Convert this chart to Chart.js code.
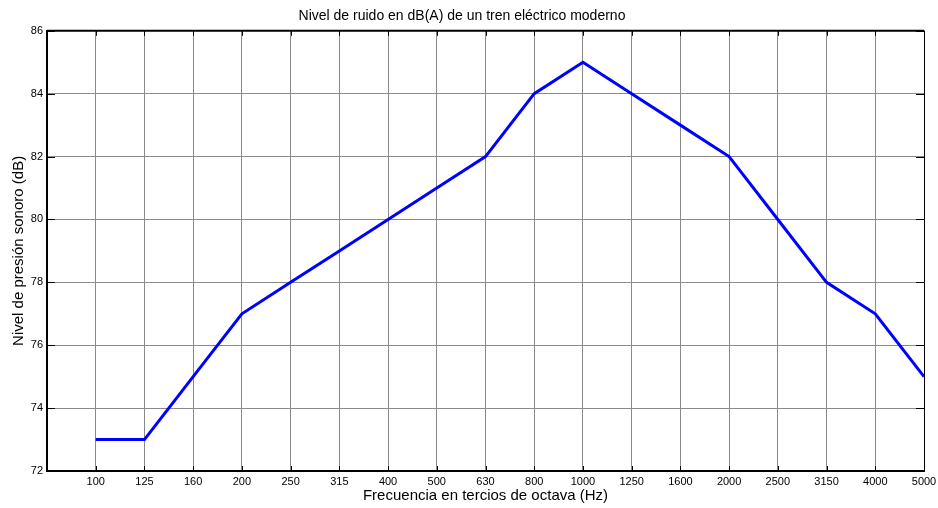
<!DOCTYPE html>
<html>
<head>
<meta charset="utf-8">
<script src="https://cdn.jsdelivr.net/npm/chart.js@4/dist/chart.umd.min.js"></script>
<style>
  html, body { margin: 0; padding: 0; background: #fff; }
  #wrap { width: 938px; height: 508px; }
</style>
</head>
<body>
<div id="wrap"><canvas id="chart" width="938" height="508"></canvas></div>
<script>
// ===== Ruido tren eléctrico =====
const FREQ_LABELS = ['100', '125', '160', '200', '250', '315', '400', '500', '630', '800',
    '1000', '1250', '1600', '2000', '2500', '3150', '4000', '5000'];
const NOISE_DB = [73, 73, 75, 77, 78, 79, 80, 81, 82, 84, 85, 84, 83, 82, 80, 78, 77, 75];
const Y_MIN = 72, Y_MAX = 86, Y_STEP = 2;

const FONT = 'Liberation Sans, Arial, sans-serif';

// top frame line + inward tick marks like the original
const frame = {
    id: 'frame',
    afterDraw(chart) {
        const { ctx, chartArea: a, scales: { x, y } } = chart;
        ctx.save();
        ctx.strokeStyle = '#000';
        ctx.lineWidth = 2;
        ctx.beginPath();
        ctx.moveTo(a.left, a.top); ctx.lineTo(a.right, a.top);
        ctx.stroke();
        ctx.lineWidth = 1;
        ctx.beginPath();
        ctx.moveTo(a.right + 0.5, a.top); ctx.lineTo(a.right + 0.5, a.bottom);
        for (let i = 0; i < FREQ_LABELS.length; i++) {
            const px = Math.round(x.getPixelForValue(i)) + 0.5;
            ctx.moveTo(px, a.bottom); ctx.lineTo(px, a.bottom - 5);
            ctx.moveTo(px, a.top); ctx.lineTo(px, a.top + 5);
        }
        for (let v = Y_MIN; v <= Y_MAX; v += Y_STEP) {
            const py = Math.round(y.getPixelForValue(v)) + 0.5;
            ctx.moveTo(a.left, py); ctx.lineTo(a.left + 8, py);
            ctx.moveTo(a.right, py); ctx.lineTo(a.right - 8, py);
        }
        ctx.stroke();
        ctx.restore();
    }
};

new Chart(document.getElementById('chart'), {
    type: 'line',
    data: {
        datasets: [{
            data: NOISE_DB.map((v, i) => ({ x: i, y: v })),
            borderColor: '#0000ff',
            borderWidth: 3,
            pointRadius: 0,
            tension: 0,
            fill: false
        }]
    },
    options: {
        responsive: false,
        animation: false,
        layout: { padding: { left: 0, right: 14, top: 0, bottom: 0 } },
        plugins: {
            legend: { display: false },
            tooltip: { enabled: false },
            title: {
                display: true,
                text: 'Nivel de ruido en dB(A) de un tren eléctrico moderno',
                color: '#000',
                font: { family: FONT, size: 14, weight: 'normal' },
                padding: { top: 8, bottom: 6 }
            }
        },
        scales: {
            x: {
                type: 'linear',
                min: -1,
                max: FREQ_LABELS.length - 1,
                afterBuildTicks: s => { s.ticks = FREQ_LABELS.map((_, i) => ({ value: i })).concat([{ value: -1 }]); },
                afterFit: s => { s.height = 37; },
                ticks: {
                    stepSize: 1,
                    autoSkip: false,
                    maxRotation: 0,
                    color: '#000',
                    padding: 4,
                    font: { family: FONT, size: 11 },
                    callback: v => FREQ_LABELS[v] || ''
                },
                grid: { color: '#8a8a8a', lineWidth: 1, drawTicks: false },
                border: { color: '#000', width: 2 },
                title: {
                    display: true,
                    text: 'Frecuencia en tercios de octava (Hz)',
                    color: '#000',
                    font: { family: FONT, size: 15 },
                    padding: { top: 2, bottom: 3 }
                }
            },
            y: {
                min: Y_MIN,
                max: Y_MAX,
                afterFit: s => { s.width = 47; },
                ticks: {
                    stepSize: Y_STEP,
                    color: '#000',
                    padding: 4,
                    font: { family: FONT, size: 11 }
                },
                grid: { color: '#8a8a8a', lineWidth: 1, drawTicks: false },
                border: { color: '#000', width: 2 },
                title: {
                    display: true,
                    text: 'Nivel de presión sonoro (dB)',
                    color: '#000',
                    font: { family: FONT, size: 15 },
                    padding: { top: 10, bottom: 4 }
                }
            }
        }
    },
    plugins: [frame]
});
</script>
</body>
</html>
